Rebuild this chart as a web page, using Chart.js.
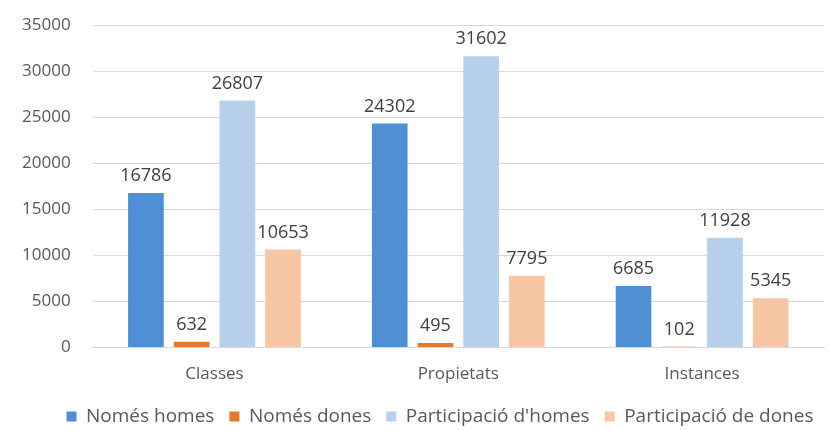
<!DOCTYPE html>
<html>
<head>
<meta charset="utf-8">
<script src="https://cdn.jsdelivr.net/npm/chart.js@4"></script>
<style>
  html, body { margin: 0; padding: 0; background: #fff; }
  #wrap { width: 830px; height: 431px; }
</style>
</head>
<body>
<div id="wrap"><canvas id="chart"></canvas></div>
<script>
// data
var categories = ["Classes", "Propietats", "Instances"];
var nomesHomes = [16786, 24302, 6685];
var nomesDones = [632, 495, 102];
var partHomes = [26807, 31602, 11928];
var partDones = [10653, 7795, 5345];
var yTicks = [0, 5000, 10000, 15000, 20000, 25000, 30000, 35000];

//value labels over the bars
var barLabels = {
  id: 'barLabels',
  afterLayout: function(chart){
    //legend sits a bit right of the canvas centre in the original
    if (chart.legend) { chart.legend.left += 28; chart.legend.right += 28; }
  },
  afterDatasetsDraw: function(chart){
    var ctx = chart.ctx;
    ctx.save();
    ctx.font = '18px "Open Sans"';
    ctx.fillStyle = '#404040';
    ctx.textAlign = 'center';
    ctx.textBaseline = 'bottom';
    chart.data.datasets.forEach(function(ds, i){
      chart.getDatasetMeta(i).data.forEach(function(bar, j){
        ctx.fillText(ds.data[j], bar.x, bar.y - 8);
      });
    });
    ctx.restore();
  }
};

new Chart(document.getElementById("chart"), {
  type: 'bar',
  data: {
    labels: categories,
    datasets: [
      { label: "Només homes", data: nomesHomes, backgroundColor: "#4f8fd3" },
      { label: "Només dones", data: nomesDones, backgroundColor: "#e8782f" },
      { label: "Participació d'homes", data: partHomes, backgroundColor: "#b7d1ed" },
      { label: "Participació de dones", data: partDones, backgroundColor: "#f7c6a4" }
    ]
  },
  options: {
    responsive: true,
    maintainAspectRatio: false,
    animation: false,
    layout: { padding: { left: 0, right: 6, top: 25, bottom: -5 } },
    datasets: { bar: { categoryPercentage: 0.75, barPercentage: 0.78 } },
    plugins: {
      legend: {
        position: 'bottom',
        labels: {
          boxWidth: 10, boxHeight: 10, padding: 15,
          color: '#595959',
          font: { family: '"Open Sans"', size: 19 }
        }
      },
      tooltip: { enabled: false }
    },
    scales: {
      x: {
        grid: { display: false },
        border: { color: '#d9d9d9' },
        ticks: { color: '#595959', padding: 8, font: { family: '"Open Sans"', size: 17 } }
      },
      y: {
        min: 0, max: 35000,
        afterBuildTicks: function(axis){ axis.ticks = yTicks.map(function(v){ return { value: v }; }); },
        afterFit: function(axis){ axis.paddingTop = 0; },
        grid: { color: '#d9d9d9', drawTicks: false },
        border: { display: false },
        ticks: { color: '#595959', padding: 22, font: { family: '"Open Sans"', size: 17 },
                 callback: function(v){ return String(v); } }
      }
    }
  },
  plugins: [barLabels]
});
</script>
</body>
</html>
